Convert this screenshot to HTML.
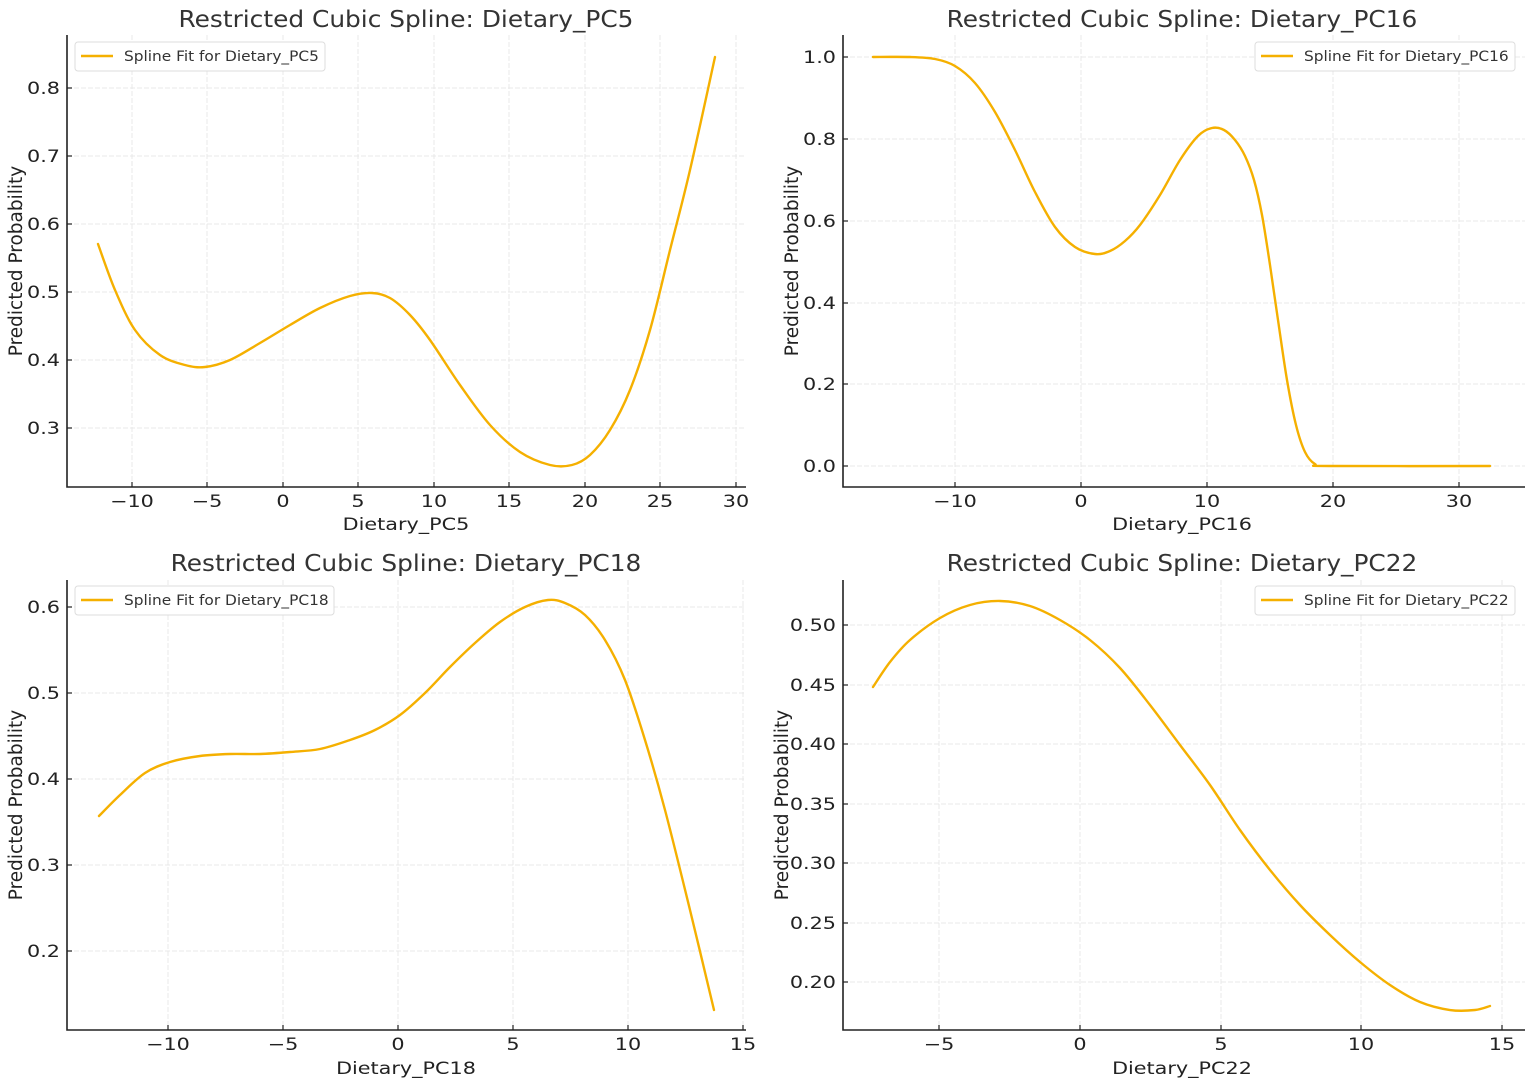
<!DOCTYPE html>
<html><head><meta charset="utf-8"><style>
body{margin:0;background:#fff}
svg{display:block;font-family:"DejaVu Sans","Liberation Sans",sans-serif}
.g{stroke:#e8e8e8;stroke-width:1;stroke-dasharray:5,2}
.ax{stroke:#222;stroke-width:1.6;fill:none}
.tk{stroke:#222;stroke-width:1.2}
.c{fill:none;stroke:#f5b000;stroke-width:2.4;stroke-linejoin:round;stroke-linecap:round}
.t{font-size:17px;fill:#222}
.yl{font-size:18.5px;fill:#222}
.ti{font-size:23px;fill:#333}
.lg{font-size:14.5px;fill:#333}
</style></head><body>
<svg width="1535" height="1091" viewBox="0 0 1535 1091">
<!-- TL -->
<g>
<text class="ti" x="406" y="27" text-anchor="middle">Restricted Cubic Spline: Dietary_PC5</text>
<g class="g"><line x1="132" y1="35" x2="132" y2="487"/><line x1="207" y1="35" x2="207" y2="487"/><line x1="283" y1="35" x2="283" y2="487"/><line x1="358" y1="35" x2="358" y2="487"/><line x1="434" y1="35" x2="434" y2="487"/><line x1="509" y1="35" x2="509" y2="487"/><line x1="585" y1="35" x2="585" y2="487"/><line x1="660" y1="35" x2="660" y2="487"/><line x1="736" y1="35" x2="736" y2="487"/>
<line x1="67" y1="88" x2="746" y2="88"/><line x1="67" y1="156" x2="746" y2="156"/><line x1="67" y1="224" x2="746" y2="224"/><line x1="67" y1="292" x2="746" y2="292"/><line x1="67" y1="360" x2="746" y2="360"/><line x1="67" y1="428" x2="746" y2="428"/></g>
<g class="tk"><line x1="132" y1="482" x2="132" y2="487"/><line x1="207" y1="482" x2="207" y2="487"/><line x1="283" y1="482" x2="283" y2="487"/><line x1="358" y1="482" x2="358" y2="487"/><line x1="434" y1="482" x2="434" y2="487"/><line x1="509" y1="482" x2="509" y2="487"/><line x1="585" y1="482" x2="585" y2="487"/><line x1="660" y1="482" x2="660" y2="487"/><line x1="736" y1="482" x2="736" y2="487"/>
<line x1="67" y1="88" x2="72" y2="88"/><line x1="67" y1="156" x2="72" y2="156"/><line x1="67" y1="224" x2="72" y2="224"/><line x1="67" y1="292" x2="72" y2="292"/><line x1="67" y1="360" x2="72" y2="360"/><line x1="67" y1="428" x2="72" y2="428"/></g>
<polyline class="ax" points="67,35 67,487 746,487"/>
<g class="t s" text-anchor="middle"><text x="132" y="507">−10</text><text x="207" y="507">−5</text><text x="283" y="507">0</text><text x="358" y="507">5</text><text x="434" y="507">10</text><text x="509" y="507">15</text><text x="585" y="507">20</text><text x="660" y="507">25</text><text x="736" y="507">30</text></g>
<g class="t s" text-anchor="end"><text x="60" y="94">0.8</text><text x="60" y="162">0.7</text><text x="60" y="230">0.6</text><text x="60" y="298">0.5</text><text x="60" y="366">0.4</text><text x="60" y="434">0.3</text></g>
<g class="t s"><text x="406" y="530" text-anchor="middle">Dietary_PC5</text></g>
<text class="yl" transform="translate(22,261) rotate(-90)" text-anchor="middle">Predicted Probability</text>
<polyline class="c" points="98,244 115,290 135,330 160,355 185,365 205,367 230,360 260,343 290,325 320,308 350,296 372,293 390,298 410,315 430,340 460,385 490,425 520,452 550,465 572,465 590,455 610,430 630,390 650,330 670,250 690,170 715,57"/>
<rect x="75" y="42" width="250" height="29" rx="3" fill="#fff" stroke="#ddd"/>
<line x1="81" y1="56" x2="113" y2="56" stroke="#f5b000" stroke-width="2.4"/>
<text class="lg" x="124" y="61">Spline Fit for Dietary_PC5</text>
</g>
<!-- TR -->
<g>
<text class="ti" x="1182" y="27" text-anchor="middle">Restricted Cubic Spline: Dietary_PC16</text>
<g class="g"><line x1="955" y1="35" x2="955" y2="487"/><line x1="1081" y1="35" x2="1081" y2="487"/><line x1="1207" y1="35" x2="1207" y2="487"/><line x1="1333" y1="35" x2="1333" y2="487"/><line x1="1459" y1="35" x2="1459" y2="487"/>
<line x1="843" y1="57" x2="1525" y2="57"/><line x1="843" y1="139" x2="1525" y2="139"/><line x1="843" y1="221" x2="1525" y2="221"/><line x1="843" y1="303" x2="1525" y2="303"/><line x1="843" y1="384" x2="1525" y2="384"/><line x1="843" y1="466" x2="1525" y2="466"/></g>
<g class="tk"><line x1="955" y1="482" x2="955" y2="487"/><line x1="1081" y1="482" x2="1081" y2="487"/><line x1="1207" y1="482" x2="1207" y2="487"/><line x1="1333" y1="482" x2="1333" y2="487"/><line x1="1459" y1="482" x2="1459" y2="487"/>
<line x1="843" y1="57" x2="848" y2="57"/><line x1="843" y1="139" x2="848" y2="139"/><line x1="843" y1="221" x2="848" y2="221"/><line x1="843" y1="303" x2="848" y2="303"/><line x1="843" y1="384" x2="848" y2="384"/><line x1="843" y1="466" x2="848" y2="466"/></g>
<polyline class="ax" points="843,35 843,487 1525,487"/>
<g class="t s" text-anchor="middle"><text x="955" y="507">−10</text><text x="1081" y="507">0</text><text x="1207" y="507">10</text><text x="1333" y="507">20</text><text x="1459" y="507">30</text></g>
<g class="t s" text-anchor="end"><text x="836" y="63">1.0</text><text x="836" y="145">0.8</text><text x="836" y="227">0.6</text><text x="836" y="309">0.4</text><text x="836" y="390">0.2</text><text x="836" y="472">0.0</text></g>
<g class="t s"><text x="1182" y="530" text-anchor="middle">Dietary_PC16</text></g>
<text class="yl" transform="translate(798,261) rotate(-90)" text-anchor="middle">Predicted Probability</text>
<polyline class="c" points="873,57 910,57 935,59 955,66 975,83 995,112 1015,150 1035,192 1055,227 1075,247 1095,254 1110,251 1125,241 1140,225 1160,195 1180,160 1198,136 1212,128 1224,130 1235,140 1245,156 1254,180 1262,215 1270,265 1278,320 1287,380 1296,425 1305,452 1315,464 1330,466 1490,466"/>
<rect x="1255" y="42" width="260" height="29" rx="3" fill="#fff" stroke="#ddd"/>
<line x1="1261" y1="56" x2="1293" y2="56" stroke="#f5b000" stroke-width="2.4"/>
<text class="lg" x="1304" y="61">Spline Fit for Dietary_PC16</text>
</g>
<!-- BL -->
<g>
<text class="ti" x="406" y="571" text-anchor="middle">Restricted Cubic Spline: Dietary_PC18</text>
<g class="g"><line x1="168" y1="580" x2="168" y2="1030"/><line x1="283" y1="580" x2="283" y2="1030"/><line x1="398" y1="580" x2="398" y2="1030"/><line x1="513" y1="580" x2="513" y2="1030"/><line x1="628" y1="580" x2="628" y2="1030"/><line x1="743" y1="580" x2="743" y2="1030"/>
<line x1="67" y1="607" x2="746" y2="607"/><line x1="67" y1="693" x2="746" y2="693"/><line x1="67" y1="779" x2="746" y2="779"/><line x1="67" y1="865" x2="746" y2="865"/><line x1="67" y1="951" x2="746" y2="951"/></g>
<g class="tk"><line x1="168" y1="1025" x2="168" y2="1030"/><line x1="283" y1="1025" x2="283" y2="1030"/><line x1="398" y1="1025" x2="398" y2="1030"/><line x1="513" y1="1025" x2="513" y2="1030"/><line x1="628" y1="1025" x2="628" y2="1030"/><line x1="743" y1="1025" x2="743" y2="1030"/>
<line x1="67" y1="607" x2="72" y2="607"/><line x1="67" y1="693" x2="72" y2="693"/><line x1="67" y1="779" x2="72" y2="779"/><line x1="67" y1="865" x2="72" y2="865"/><line x1="67" y1="951" x2="72" y2="951"/></g>
<polyline class="ax" points="67,580 67,1030 746,1030"/>
<g class="t s" text-anchor="middle"><text x="168" y="1050">−10</text><text x="283" y="1050">−5</text><text x="398" y="1050">0</text><text x="513" y="1050">5</text><text x="628" y="1050">10</text><text x="743" y="1050">15</text></g>
<g class="t s" text-anchor="end"><text x="60" y="613">0.6</text><text x="60" y="699">0.5</text><text x="60" y="785">0.4</text><text x="60" y="871">0.3</text><text x="60" y="957">0.2</text></g>
<g class="t s"><text x="406" y="1074" text-anchor="middle">Dietary_PC18</text></g>
<text class="yl" transform="translate(22,805) rotate(-90)" text-anchor="middle">Predicted Probability</text>
<polyline class="c" points="99,816 120,795 145,773 170,762 200,756 230,754 260,754 290,752 320,749 350,740 375,730 400,715 425,693 450,667 475,643 500,622 525,607 548,600 565,603 585,615 605,640 625,680 645,740 665,810 690,910 714,1010"/>
<rect x="75" y="586" width="259" height="29" rx="3" fill="#fff" stroke="#ddd"/>
<line x1="81" y1="600" x2="113" y2="600" stroke="#f5b000" stroke-width="2.4"/>
<text class="lg" x="124" y="605">Spline Fit for Dietary_PC18</text>
</g>
<!-- BR -->
<g>
<text class="ti" x="1182" y="571" text-anchor="middle">Restricted Cubic Spline: Dietary_PC22</text>
<g class="g"><line x1="939" y1="580" x2="939" y2="1030"/><line x1="1080" y1="580" x2="1080" y2="1030"/><line x1="1221" y1="580" x2="1221" y2="1030"/><line x1="1361" y1="580" x2="1361" y2="1030"/><line x1="1502" y1="580" x2="1502" y2="1030"/>
<line x1="843" y1="625" x2="1525" y2="625"/><line x1="843" y1="685" x2="1525" y2="685"/><line x1="843" y1="744" x2="1525" y2="744"/><line x1="843" y1="804" x2="1525" y2="804"/><line x1="843" y1="863" x2="1525" y2="863"/><line x1="843" y1="923" x2="1525" y2="923"/><line x1="843" y1="982" x2="1525" y2="982"/></g>
<g class="tk"><line x1="939" y1="1025" x2="939" y2="1030"/><line x1="1080" y1="1025" x2="1080" y2="1030"/><line x1="1221" y1="1025" x2="1221" y2="1030"/><line x1="1361" y1="1025" x2="1361" y2="1030"/><line x1="1502" y1="1025" x2="1502" y2="1030"/>
<line x1="843" y1="625" x2="848" y2="625"/><line x1="843" y1="685" x2="848" y2="685"/><line x1="843" y1="744" x2="848" y2="744"/><line x1="843" y1="804" x2="848" y2="804"/><line x1="843" y1="863" x2="848" y2="863"/><line x1="843" y1="923" x2="848" y2="923"/><line x1="843" y1="982" x2="848" y2="982"/></g>
<polyline class="ax" points="843,580 843,1030 1525,1030"/>
<g class="t s" text-anchor="middle"><text x="939" y="1050">−5</text><text x="1080" y="1050">0</text><text x="1221" y="1050">5</text><text x="1361" y="1050">10</text><text x="1502" y="1050">15</text></g>
<g class="t s" text-anchor="end"><text x="836" y="631">0.50</text><text x="836" y="691">0.45</text><text x="836" y="750">0.40</text><text x="836" y="810">0.35</text><text x="836" y="869">0.30</text><text x="836" y="929">0.25</text><text x="836" y="988">0.20</text></g>
<g class="t s"><text x="1182" y="1074" text-anchor="middle">Dietary_PC22</text></g>
<text class="yl" transform="translate(788,805) rotate(-90)" text-anchor="middle">Predicted Probability</text>
<polyline class="c" points="873,687 890,662 910,640 940,618 970,605 1000,601 1030,606 1060,620 1090,640 1120,668 1150,705 1180,745 1210,785 1240,830 1270,870 1300,905 1330,935 1360,962 1390,985 1420,1002 1450,1010 1475,1010 1490,1006"/>
<rect x="1255" y="586" width="260" height="29" rx="3" fill="#fff" stroke="#ddd"/>
<line x1="1261" y1="600" x2="1293" y2="600" stroke="#f5b000" stroke-width="2.4"/>
<text class="lg" x="1304" y="605">Spline Fit for Dietary_PC22</text>
</g>
</svg>
<script>
function stretch(sel,k){document.querySelectorAll(sel).forEach(function(el){var x=+el.getAttribute('x');el.setAttribute('transform','translate('+x+',0) scale('+k+',1) translate('+(-x)+',0)');});}
stretch('.s text',1.22);stretch('text.ti',1.08);stretch('text.lg',1.06);
document.querySelectorAll('polyline.c').forEach(function(pl){
  var p=pl.getAttribute('points').trim().split(/\s+/).map(function(s){return s.split(',').map(Number);});
  var d='M'+p[0][0]+','+p[0][1];
  for(var i=0;i<p.length-1;i++){
    var p0=p[i-1]||p[i],p1=p[i],p2=p[i+1],p3=p[i+2]||p2;
    var c1x=p1[0]+(p2[0]-p0[0])/6,c1y=p1[1]+(p2[1]-p0[1])/6;
    var c2x=p2[0]-(p3[0]-p1[0])/6,c2y=p2[1]-(p3[1]-p1[1])/6;
    d+=' C'+c1x+','+c1y+' '+c2x+','+c2y+' '+p2[0]+','+p2[1];
  }
  var path=document.createElementNS('http://www.w3.org/2000/svg','path');
  path.setAttribute('d',d);path.setAttribute('class','c');
  pl.parentNode.replaceChild(path,pl);
});
</script>
</body></html>
